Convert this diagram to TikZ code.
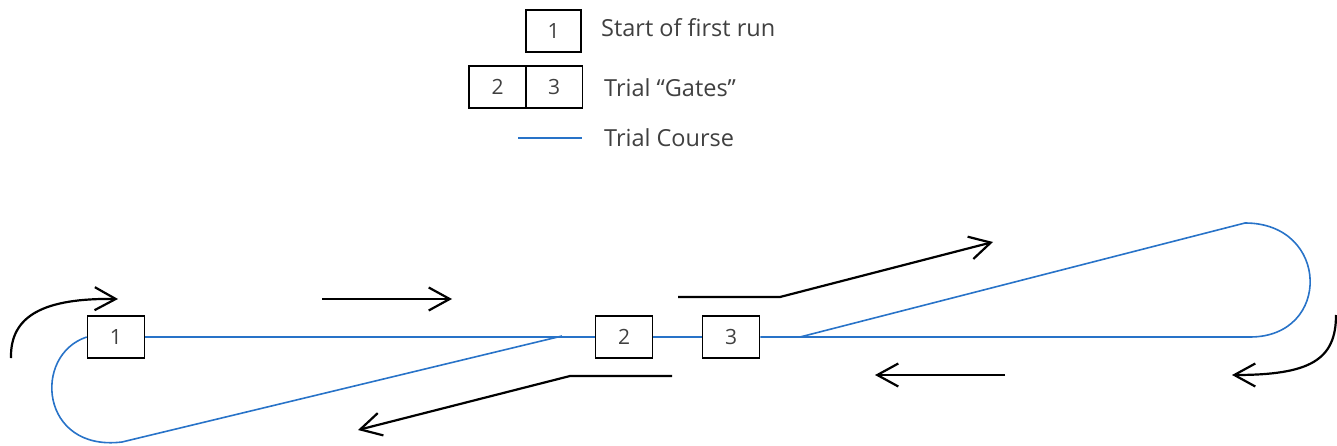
\documentclass[tikz,border=0pt]{standalone}
\usepackage{fontspec}
\setmainfont{Open Sans}
\usetikzlibrary{arrows.meta}
\definecolor{course}{RGB}{40,115,200}
\definecolor{txt}{RGB}{64,64,64}
\begin{document}
\begin{tikzpicture}[x=1pt,y=-1pt,
 gate/.style={draw=black,line width=1.5pt,minimum width=57pt,minimum height=42pt,inner sep=0pt,font=\fontsize{21}{21}\selectfont,text=txt},
 lbl/.style={anchor=base west,font=\fontsize{23.5}{23.5}\selectfont,text=txt,inner sep=0pt},
 crs/.style={draw=course,line width=1.6pt},
 mv/.style={draw=black,line width=2.2pt,line join=round,-{Straight Barb[length=21pt,width=23pt]}}]
\useasboundingbox (0,0) rectangle (1337,446);
% legend
\node[gate,minimum width=55pt] (l1) at (553.5,31) {1};
\node[gate] (l2) at (497.5,87) {2};
\node[gate] (l3) at (554,87) {3};
\node[lbl] (t1) at (601,37) {Start of first run};
\node[lbl] (t2) at (604,97) {Trial “Gates”};
\node[lbl] (t3) at (604,147) {Trial Course};
\coordinate (la) at (518,138);
\coordinate (lb) at (582,138);
\draw[crs] (la) -- (lb);
% gates on course
\node[gate] (g1) at (116,337) {1};
\node[gate] (g2) at (624,337) {2};
\node[gate] (g3) at (731,337) {3};
% course
\coordinate (rb) at (1250,337);
\coordinate (rt) at (1245,223);
\coordinate (m3) at (800,337);
\coordinate (lbot) at (122,442);
\coordinate (m2) at (562,336);
\draw[crs] (g1.east) -- (g2.west);
\draw[crs] (g2.east) -- (g3.west);
\draw[crs] (g3.east) -- (rb) .. controls (1332,337) and (1330,223) .. (rt) -- (m3);
\draw[crs] (g1.west) .. controls (32,355) and (40,452) .. (lbot) -- (m2);
% movement arrows
\coordinate (a1s) at (11,358); \coordinate (a1e) at (118,299);
\draw[mv] (a1s) .. controls (10,315) and (45,298) .. (a1e);
\coordinate (a2s) at (322,299); \coordinate (a2e) at (452,299);
\draw[mv] (a2s) -- (a2e);
\coordinate (a3s) at (678,297); \coordinate (a3m) at (780,297); \coordinate (a3e) at (993,242);
\draw[mv] (a3s) -- (a3m) -- (a3e);
\coordinate (a4s) at (672,376); \coordinate (a4m) at (570,376); \coordinate (a4e) at (358,430);
\draw[mv] (a4s) -- (a4m) -- (a4e);
\coordinate (a5s) at (1005,375); \coordinate (a5e) at (875,375);
\draw[mv] (a5s) -- (a5e);
\coordinate (a6s) at (1336,315); \coordinate (a6e) at (1232,375);
\draw[mv] (a6s) .. controls (1336,360) and (1310,375) .. (a6e);
\end{tikzpicture}
\end{document}
